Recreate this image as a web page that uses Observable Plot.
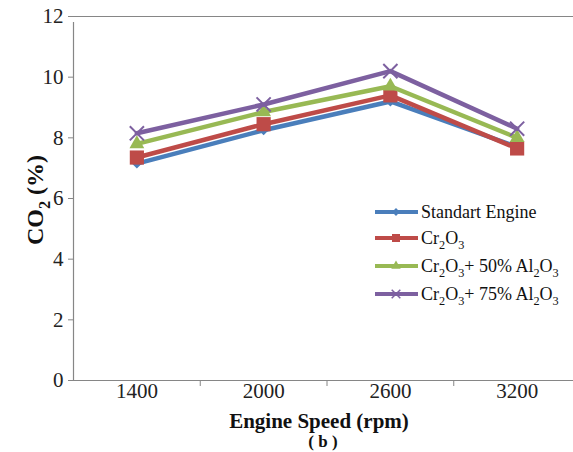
<!DOCTYPE html>
<html><head><meta charset="utf-8">
<script src="https://cdn.jsdelivr.net/npm/d3@7"></script>
<script src="https://cdn.jsdelivr.net/npm/@observablehq/plot@0.6"></script>
<style>body{margin:0;background:#fff}#chart{width:573px;height:452px;overflow:hidden}</style>
</head><body><div id="chart"></div>
<script>
// ---- data ----
const speeds = ["1400", "2000", "2600", "3200"];
const standartEngine = [7.15, 8.25, 9.2, 7.7];
const cr2o3 = [7.35, 8.45, 9.4, 7.65];
const cr2o3Al50 = [7.8, 8.85, 9.7, 8.0];
const cr2o3Al75 = [8.15, 9.1, 10.2, 8.3];
const yTicks = [0, 2, 4, 6, 8, 10, 12];
const seriesNames = ["Standart Engine", "Cr2O3", "Cr2O3+ 50% Al2O3", "Cr2O3+ 75% Al2O3"];

// ---- styling ----
const series = [
  {name: seriesNames[0], values: standartEngine, color: "#4a7ebb", symbol: "diamond2", r: 4.5, legendR: 3.5, filled: true},
  {name: seriesNames[1], values: cr2o3, color: "#be4b48", symbol: "square", r: 8, legendR: 4.5, filled: true},
  {name: seriesNames[2], values: cr2o3Al50, color: "#98b954", symbol: "triangle", r: 5.5, legendR: 3.5, filled: true},
  {name: seriesNames[3], values: cr2o3Al75, color: "#7d60a0", symbol: "times", r: 6.5, legendR: 4, filled: false}
];
const rows = series.map(s => s.values.map((v, i) => ({i, v, name: s.name})));
const axisGray = "#868686";
const serif = "'Liberation Serif', 'Times New Roman', serif";

const marks = [
  Plot.ruleY([12], {stroke: axisGray, strokeWidth: 1.2}),
  Plot.ruleY([0], {stroke: axisGray, strokeWidth: 1.2}),
  Plot.ruleX([-0.5], {y1: 0, y2: 12, stroke: axisGray, strokeWidth: 1.2, insetBottom: -6}),
  Plot.axisY({ticks: yTicks, tickSize: 5, tickPadding: 5, fontSize: 21, label: null, stroke: axisGray, fill: "#222"}),
  Plot.axisX({ticks: [0.5, 1.5, 2.5], tickSize: 6, tickFormat: () => "", label: null, stroke: axisGray}),
  Plot.axisX({ticks: [0, 1, 2, 3], tickSize: 0, tickPadding: 3, fontSize: 21, label: null, fill: "#222", tickFormat: i => speeds[i]})
];
series.forEach((s, k) => {
  marks.push(Plot.line(rows[k], {x: "i", y: "v", stroke: s.color, strokeWidth: 4.5}));
  if (s.filled) marks.push(Plot.dot(rows[k], {x: "i", y: "v", symbol: s.symbol, r: s.r, fill: s.color, stroke: "none"}));
  else marks.push(Plot.dot(rows[k], {x: "i", y: "v", symbol: s.symbol, r: s.r, stroke: s.color, strokeWidth: 2}));
});

const chart = Plot.plot({
  width: 573,
  height: 452,
  marginLeft: 73,
  marginRight: 0,
  marginTop: 16,
  marginBottom: 72,
  style: {fontFamily: serif, fontSize: "20px", background: "#fff", overflow: "visible"},
  x: {type: "linear", domain: [-0.5, 3.5], range: [73, 580], axis: null},
  y: {domain: [0, 12], axis: null},
  marks
});
document.getElementById("chart").appendChild(chart);

const svg = d3.select(chart);
// force serif on Plot's tick labels
svg.selectAll("g[aria-label$='text'], g[aria-label$='text'] text, text").style("font-family", serif);

function richText(sel, str, size) {
  const re = /([A-Za-z])(\d)/g;
  let last = 0, m;
  const segs = [];
  while ((m = re.exec(str)) !== null) {
    segs.push({t: str.slice(last, m.index + 1), sub: false});
    segs.push({t: m[2], sub: true});
    last = m.index + 2;
  }
  segs.push({t: str.slice(last), sub: false});
  let shifted = false;
  segs.filter(s => s.t.length).forEach(s => {
    const ts = sel.append("tspan").text(s.t);
    if (s.sub) { ts.attr("font-size", size * 0.68).attr("dy", shifted ? 0 : size * 0.28); shifted = true; }
    else if (shifted) { ts.attr("dy", -size * 0.28); shifted = false; }
  });
}

// y title
const yt = svg.append("text")
  .attr("transform", "translate(43,200) rotate(-90)")
  .attr("text-anchor", "middle")
  .style("font-family", serif).attr("font-weight", "bold").attr("font-size", 24).attr("fill", "#111");
richText(yt, "CO2 (%)", 24);

// x title
svg.append("text")
  .attr("x", 319).attr("y", 428)
  .attr("text-anchor", "middle")
  .style("font-family", serif).attr("font-weight", "bold").attr("font-size", 21).attr("fill", "#111")
  .text("Engine Speed (rpm)");
svg.append("text")
  .attr("x", 323).attr("y", 447)
  .attr("text-anchor", "middle")
  .style("font-family", serif).attr("font-weight", "bold").attr("font-size", 17).attr("fill", "#111")
  .attr("xml:space", "preserve")
  .text("( b )");

// legend
const legendRows = [212, 238, 266, 294];
const sym = {diamond2: d3.symbolDiamond2, square: d3.symbolSquare, triangle: d3.symbolTriangle, times: d3.symbolTimes};
series.forEach((s, k) => {
  const g = svg.append("g").attr("transform", `translate(0,${legendRows[k]})`);
  g.append("line").attr("x1", 375).attr("x2", 418).attr("y1", 0).attr("y2", 0)
    .attr("stroke", s.color).attr("stroke-width", 4);
  const p = g.append("path").attr("transform", "translate(396,0)")
    .attr("d", d3.symbol(sym[s.symbol], Math.PI * s.legendR * s.legendR)());
  if (s.filled) p.attr("fill", s.color); else p.attr("fill", "none").attr("stroke", s.color).attr("stroke-width", 1.5);
  const t = g.append("text").attr("x", 421).attr("y", 6)
    .attr("text-anchor", "start")
    .style("font-family", serif).attr("font-size", 18).attr("fill", "#111");
  richText(t, s.name, 18);
});
</script>
</body></html>
